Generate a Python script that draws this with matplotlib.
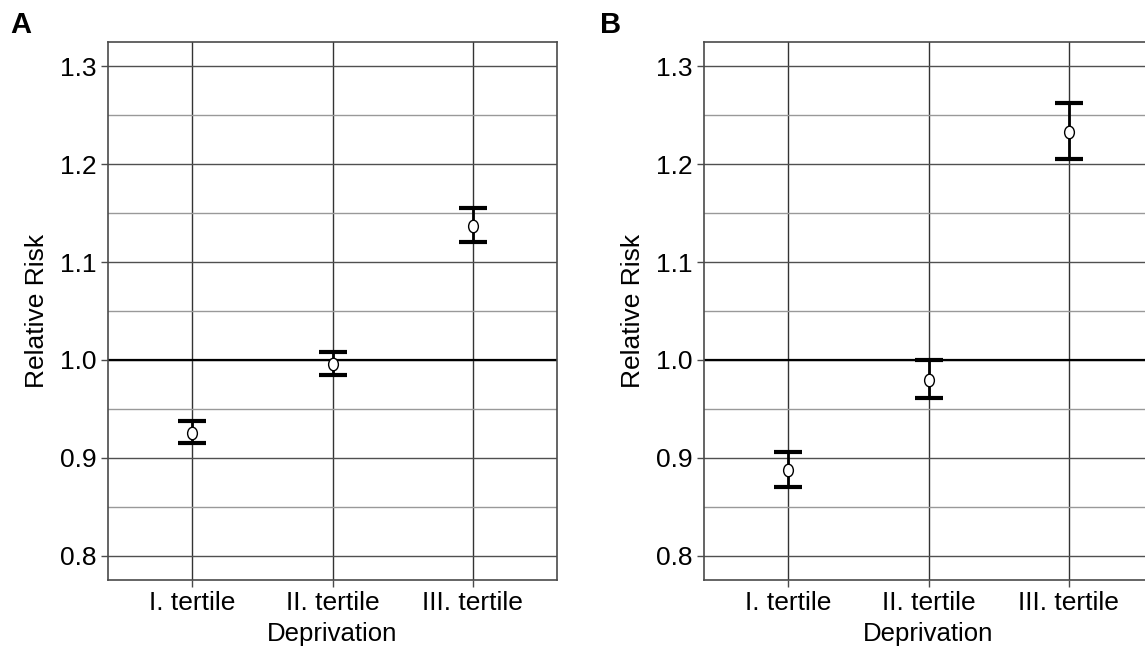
import matplotlib
matplotlib.use("Agg")
import matplotlib.pyplot as plt
import numpy as np
from matplotlib.path import Path
from matplotlib.ticker import MultipleLocator

# ---------------------------------
# Data
# ---------------------------------
categories = ["I. tertile", "II. tertile", "III. tertile"]

rr_a = [0.926, 0.996, 1.137]
lo_a = [0.915, 0.985, 1.120]
hi_a = [0.938, 1.008, 1.155]

rr_b = [0.888, 0.980, 1.233]
lo_b = [0.870, 0.961, 1.205]
hi_b = [0.906, 1.000, 1.262]

y_ticks = [0.8, 0.9, 1.0, 1.1, 1.2, 1.3]

font = "Liberation Sans"

# slightly squeezed circle, like the reference
circ = Path.unit_circle()
ellipse = Path(circ.vertices * np.array([0.78, 1.0]), circ.codes)

fig = plt.figure(figsize=(11.45, 6.49), dpi=100)

# panel B runs past the right edge, as in the reference
ax_a = fig.add_axes([108 / 1145, 1 - 580 / 649, 449 / 1145, 538 / 649])
ax_b = fig.add_axes([704 / 1145, 1 - 580 / 649, 449 / 1145, 538 / 649])


def draw_panel(ax, rr, lo, hi, letter, lx):
    x = np.arange(1, len(categories) + 1)
    rr = np.array(rr)
    err = [rr - np.array(lo), np.array(hi) - rr]

    ax.set_xlim(0.4, 3.6)
    ax.set_ylim(0.7755, 1.3245)

    ax.yaxis.set_minor_locator(MultipleLocator(0.05))
    ax.set_yticks(y_ticks)
    ax.set_xticks(x)
    ax.set_xticklabels(categories)

    ax.grid(True, which="major", axis="y", color="#505050", lw=1.0)
    ax.grid(True, which="minor", axis="y", color="#999999", lw=1.0)
    ax.grid(True, which="major", axis="x", color="#333333", lw=1.0)
    ax.axhline(1.0, color="black", lw=1.6, zorder=1.5)
    ax.set_axisbelow(True)

    ax.errorbar(x, rr, yerr=err, fmt="none", ecolor="black",
                elinewidth=2.0, capsize=10, capthick=3.0, zorder=3)
    ax.plot(x, rr, linestyle="none", marker=ellipse, markersize=9,
            markerfacecolor="white", markeredgecolor="black",
            markeredgewidth=1.0, zorder=4)

    for s in ax.spines.values():
        s.set_color("#4a4a4a")
        s.set_linewidth(1.2)

    ax.tick_params(axis="both", which="major", length=5, width=1,
                   color="#4a4a4a", pad=3, labelcolor="black")
    ax.tick_params(axis="y", which="minor", length=0)
    for lab in ax.get_xticklabels() + ax.get_yticklabels():
        lab.set_family(font)
        lab.set_fontsize(19)

    ax.set_xlabel("Deprivation", family=font, fontsize=18.5, labelpad=5)
    ax.set_ylabel("Relative Risk", family=font, fontsize=19, labelpad=8)

    fig.text(lx / 1145, 1 - 25 / 649, letter, family=font, fontsize=21,
             fontweight="bold", ha="center", va="center")


draw_panel(ax_a, rr_a, lo_a, hi_a, "A", 21)
draw_panel(ax_b, rr_b, lo_b, hi_b, "B", 611)

fig.savefig("out.png", dpi=100)
